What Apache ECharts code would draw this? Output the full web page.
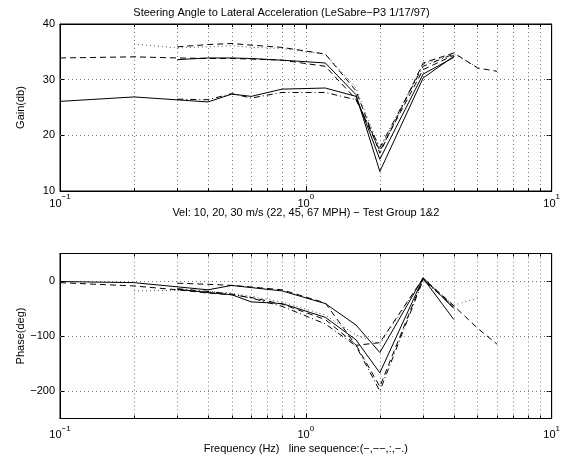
<!DOCTYPE html>
<html><head><meta charset="utf-8">
<script src="https://cdn.jsdelivr.net/npm/echarts@6/dist/echarts.min.js"></script>
<style>html,body{margin:0;padding:0;background:#fff}#c{width:563px;height:460px}</style>
</head><body><div id="c"></div>
<script>
// ---- text ----
const titleText = 'Steering Angle to Lateral Acceleration (LeSabre\u2212P3 1/17/97)';
const topXName = 'Vel: 10, 20, 30 m/s (22, 45, 67 MPH) \u2212 Test Group 1&2';
const bottomXName = 'Frequency (Hz)   line sequence:(\u2212,\u2212\u2212,:,\u2212.)';
const gainName = 'Gain(db)';
const phaseName = 'Phase(deg)';

// ---- tick values ----
const freqMin = 0.1, freqMax = 10;
const gainTicks = [10, 20, 30, 40];
const phaseTicks = [-200, -100, 0];
const phaseMin = -250, phaseMax = 50;

// ---- curves (frequency Hz, gain dB, phase deg) ----
const f1 = [0.1, 0.2, 0.4, 0.5, 0.6, 0.8, 1.2, 1.6, 2, 3, 4];
const gain1 = [26.1, 26.9, 26.0, 27.4, 27.0, 28.3, 28.5, 27.0, 15.7, 31.0, 34.0];
const phase1 = [-1, -3, -16, -8, -12, -18, -41, -80, -130, 6, -50];

const f2 = [0.1, 0.2, 0.3, 0.4, 0.5, 0.6, 0.8, 1.2, 1.6, 2, 3, 4];
const gain2 = [33.9, 34.1, 33.9, 33.8, 33.8, 33.7, 33.5, 32.4, 26.5, 17.2, 31.8, 34.4];
const phase2 = [-3, -9, -16, -22, -25, -30, -42, -70, -116, -192, 4, -48];

const f3 = [0.2, 0.3, 0.4, 0.5, 0.6, 0.8, 1.2, 1.6, 2, 3, 4, 5];
const gain3 = [36.4, 35.7, 35.9, 36.1, 35.8, 35.6, 34.6, 28.5, 17.5, 32.8, 34.6, 32.2];
const phase3 = [-18, -17, -19, -22, -28, -38, -62, -98, -115, 5, -44, -31];

const f4 = [0.3, 0.4, 0.5, 0.6, 0.8, 1.2, 1.6, 2, 3, 4];
const gain4 = [26.5, 26.4, 27.5, 26.7, 27.7, 27.7, 26.4, 17.8, 32.4, 34.6];
const phase4 = [-14, -19, -24, -31, -46, -78, -118, -200, 2, -47];

const f5 = [0.3, 0.4, 0.5, 0.6, 0.8, 1.2, 1.6, 2, 3, 4];
const gain5 = [33.6, 33.9, 33.9, 33.8, 33.5, 33.0, 27.3, 13.5, 30.3, 34.2];
const phase5 = [-15, -21, -25, -38, -41, -66, -107, -167, 5, -70];

const f6 = [0.3, 0.4, 0.5, 0.6, 0.8, 1.2, 1.6, 2, 3, 4, 5, 6];
const gain6 = [35.9, 36.3, 36.5, 36.2, 35.8, 34.6, 28.0, 16.8, 33.0, 34.8, 32.1, 31.5];
const phase6 = [-4, -6, -8, -11, -16, -40, -117, -112, 5, -45, -86, -115];

const curves = [
  {f: f1, g: gain1, p: phase1, style: 'solid'},
  {f: f2, g: gain2, p: phase2, style: 'dashed'},
  {f: f3, g: gain3, p: phase3, style: 'dotted'},
  {f: f4, g: gain4, p: phase4, style: 'dashdot'},
  {f: f5, g: gain5, p: phase5, style: 'solid'},
  {f: f6, g: gain6, p: phase6, style: 'dashed'}
];

const FONT = 'Liberation Sans';
const dashMap = {solid: 'solid', dashed: [6, 4], dotted: [1, 3], dashdot: [6, 3, 1, 3]};
const colorMap = {solid: '#000', dashed: '#000', dotted: '#555', dashdot: '#000'};
const gridDash = [1, 3];
const gridColor = '#777';

function minus(v) { return String(v).replace('-', '\u2212'); }
function logLabel(v) {
  const e = Math.round(Math.log10(v));
  return '{b|10}{s|' + minus(e) + '}';
}
const richLab = {
  b: {fontFamily: FONT, fontSize: 11, color: '#000', verticalAlign: 'bottom', lineHeight: 16},
  s: {fontFamily: FONT, fontSize: 8, color: '#000', verticalAlign: 'top', lineHeight: 16}
};

function xAxes(gridIndex, name, nameGap, labelMargin) {
  return [
    {
      type: 'log', logBase: 10, min: freqMin, max: freqMax, gridIndex: gridIndex,
      position: 'bottom',
      name: name, nameLocation: 'middle', nameGap: nameGap, nameMoveOverlap: false,
      nameTextStyle: {fontFamily: FONT, fontSize: 11, color: '#000'},
      axisLine: {show: true, onZero: false, lineStyle: {color: '#000', width: 1}},
      axisTick: {show: true, inside: true, length: 5, lineStyle: {color: '#000'}},
      minorTick: {show: true, splitNumber: 9, length: 3, lineStyle: {color: '#000'}},
      minorSplitLine: {show: true, lineStyle: {color: gridColor, type: gridDash, width: 1}},
      splitLine: {show: true, lineStyle: {color: gridColor, type: gridDash, width: 1}},
      axisLabel: {show: true, margin: labelMargin, formatter: logLabel, rich: richLab, showMaxLabel: true, showMinLabel: true}
    },
    {
      type: 'log', logBase: 10, min: freqMin, max: freqMax, gridIndex: gridIndex,
      position: 'top',
      axisLine: {show: true, onZero: false, lineStyle: {color: '#000', width: 1}},
      axisTick: {show: true, inside: true, length: 5, lineStyle: {color: '#000'}},
      minorTick: {show: true, splitNumber: 9, length: 3, lineStyle: {color: '#000'}},
      splitLine: {show: false},
      axisLabel: {show: false}
    }
  ];
}

function yAxes(gridIndex, name, mn, mx, interval, ticks) {
  return [
    {
      type: 'value', gridIndex: gridIndex, position: 'left', min: mn, max: mx, interval: interval,
      name: name, nameLocation: 'middle', nameGap: 34, nameMoveOverlap: false,
      nameTextStyle: {fontFamily: FONT, fontSize: 11, color: '#000'},
      axisLine: {show: true, onZero: false, lineStyle: {color: '#000', width: 1}},
      axisTick: {show: true, inside: true, length: 5, lineStyle: {color: '#000'}, customValues: ticks},
      axisLabel: {show: true, fontFamily: FONT, fontSize: 11, color: '#000', margin: 5,
        customValues: ticks, formatter: v => minus(v)},
      splitLine: {show: false}
    },
    {
      type: 'value', gridIndex: gridIndex, position: 'right', min: mn, max: mx, interval: interval,
      axisLine: {show: true, onZero: false, lineStyle: {color: '#000', width: 1}},
      axisTick: {show: true, inside: true, length: 5, lineStyle: {color: '#000'}, customValues: ticks},
      axisLabel: {show: false},
      splitLine: {show: false}
    }
  ];
}

function hGrid(xi, yi, vals) {
  return {
    type: 'line', xAxisIndex: xi, yAxisIndex: yi, data: [], silent: true,
    markLine: {
      silent: true, symbol: ['none', 'none'], animation: false,
      label: {show: false},
      lineStyle: {color: gridColor, type: gridDash, width: 1},
      data: vals.map(v => ({yAxis: v}))
    }
  };
}

const series = [];
series.push(hGrid(0, 0, gainTicks.slice(1, -1)));
series.push(hGrid(2, 2, phaseTicks));
curves.forEach(c => {
  const common = {type: 'line', showSymbol: false, symbol: 'none', animation: false, z: 5,
    lineStyle: {color: colorMap[c.style], width: 1, type: dashMap[c.style]}};
  series.push(Object.assign({}, common, {xAxisIndex: 0, yAxisIndex: 0, data: c.f.map((f, i) => [f, c.g[i]])}));
  series.push(Object.assign({}, common, {xAxisIndex: 2, yAxisIndex: 2, data: c.f.map((f, i) => [f, c.p[i]])}));
});

const chart = echarts.init(document.getElementById('c'), null, {renderer: 'canvas'});
chart.setOption({
  backgroundColor: '#fff',
  animation: false,
  title: {text: titleText, left: 'center', top: 2,
    textStyle: {fontFamily: FONT, fontSize: 11, fontWeight: 'normal', color: '#000'}},
  grid: [
    {left: 60, right: 8, top: 24, height: 167, show: true, borderColor: '#000', borderWidth: 1},
    {left: 60, right: 8, top: 253.5, height: 165, show: true, borderColor: '#000', borderWidth: 1}
  ],
  xAxis: xAxes(0, topXName, 16, 2).concat(xAxes(1, bottomXName, 25, 6)),
  yAxis: yAxes(0, gainName, 10, 40, 10, gainTicks).concat(yAxes(1, phaseName, phaseMin, phaseMax, 50, phaseTicks)),
  series: series
});
</script></body></html>
